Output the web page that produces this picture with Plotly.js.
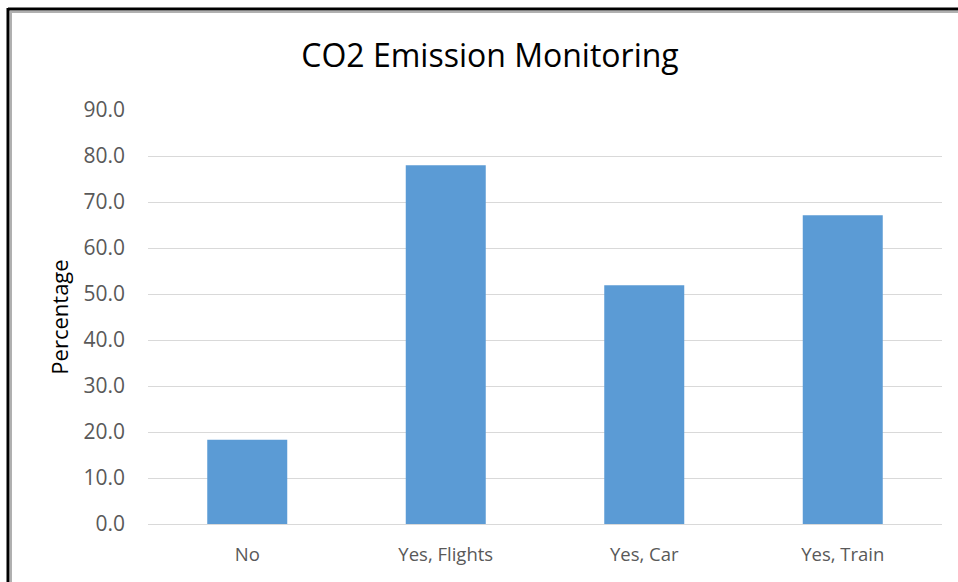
<!DOCTYPE html>
<html>
<head>
<meta charset="utf-8">
<script src="https://cdn.plot.ly/plotly-3.0.1.min.js"></script>
<style>
html,body{margin:0;padding:0;background:#fff;overflow:hidden;}
#chart{width:958px;height:582px;}
</style>
</head>
<body>
<div id="chart"></div>
<script>
const categories = ["No", "Yes, Flights", "Yes, Car", "Yes, Train"];
const percentages = [18.3, 78.0, 51.9, 67.1];
const tickValues = [0, 10, 20, 30, 40, 50, 60, 70, 80, 90];

const W = 958, H = 582;
const L = 148, R = 16, T = 110, B = 58;
const pw = W - L - R, ph = H - T - B;
const px = v => (v - L) / pw;
const py = v => (H - B - v) / ph;

const trace = {
  type: "bar",
  x: categories,
  y: percentages,
  marker: {color: "#5b9bd5"},
  hoverinfo: "x+y"
};

const layout = {
  width: W, height: H,
  margin: {l: L, r: R, t: T, b: B, pad: 0},
  paper_bgcolor: "#ffffff",
  plot_bgcolor: "#ffffff",
  bargap: 0.597,
  showlegend: false,
  font: {family: "Open Sans, sans-serif", color: "#595959"},
  title: {
    text: "CO2 Emission Monitoring",
    font: {family: "Open Sans, sans-serif", size: 32, color: "#000000"},
    x: 490 / W, xref: "container", xanchor: "center",
    y: 1 - 56 / H, yref: "container", yanchor: "middle"
  },
  xaxis: {
    type: "category",
    tickfont: {size: 18.5, color: "#595959"},
    showgrid: false,
    showline: false,
    zeroline: false,
    ticks: "",
    ticklabelstandoff: 17
  },
  yaxis: {
    range: [0, 90],
    tickvals: tickValues,
    tickformat: ".1f",
    tickfont: {size: 21, color: "#595959"},
    showgrid: true,
    gridcolor: "#d9d9d9",
    gridwidth: 1,
    zeroline: true,
    zerolinecolor: "#d9d9d9",
    zerolinewidth: 1,
    showline: false,
    ticks: "",
    ticklabelstandoff: 22,
    title: {text: "Percentage", font: {size: 22, color: "#000000"}, standoff: 8}
  },
  shapes: [
    {type: "line", xref: "paper", yref: "paper", x0: px(8), x1: px(8), y0: py(8), y1: py(600), line: {color: "#000", width: 3}},
    {type: "line", xref: "paper", yref: "paper", x0: px(8), x1: px(1000), y0: py(9), y1: py(9), line: {color: "#000", width: 3}},
    {type: "line", xref: "paper", yref: "paper", x0: px(11), x1: px(11), y0: py(11), y1: py(600), line: {color: "#b0b0b0", width: 2}},
    {type: "line", xref: "paper", yref: "paper", x0: px(11), x1: px(1000), y0: py(12), y1: py(12), line: {color: "#b0b0b0", width: 2}}
  ]
};

Plotly.newPlot("chart", [trace], layout, {displayModeBar: false, staticPlot: true});
</script>
</body>
</html>
